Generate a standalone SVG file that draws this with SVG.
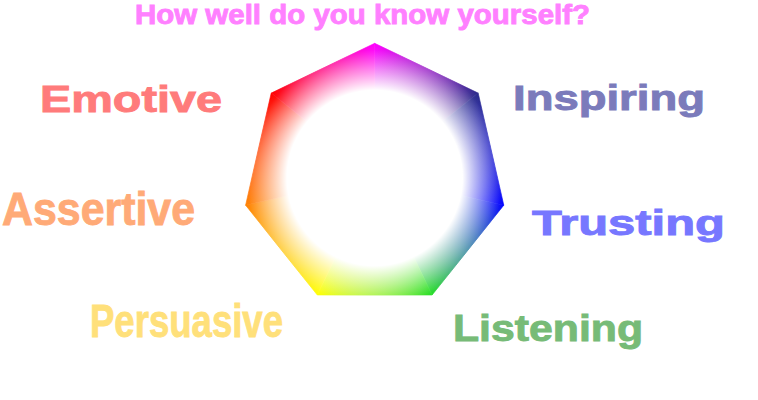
<svg xmlns="http://www.w3.org/2000/svg" width="758" height="400" viewBox="0 0 758 400">
<style>
  .lbl { font-family: "Liberation Sans", Arial, sans-serif; font-weight: bold; stroke-width: 0.9; }
</style>
<defs>
  <linearGradient id="g01" gradientUnits="userSpaceOnUse" x1="374.7" y1="43.3" x2="478.2" y2="93.1"><stop offset="0" stop-color="#FF00FF"/><stop offset="1" stop-color="#2A2A8A"/></linearGradient>
  <linearGradient id="g12" gradientUnits="userSpaceOnUse" x1="478.2" y1="93.1" x2="503.8" y2="205.2"><stop offset="0" stop-color="#2A2A8A"/><stop offset="1" stop-color="#0000FF"/></linearGradient>
  <linearGradient id="g23" gradientUnits="userSpaceOnUse" x1="503.8" y1="205.2" x2="432.1" y2="295"><stop offset="0" stop-color="#0000FF"/><stop offset="1" stop-color="#22DD22"/></linearGradient>
  <linearGradient id="g34" gradientUnits="userSpaceOnUse" x1="432.1" y1="295" x2="317.3" y2="295"><stop offset="0" stop-color="#22DD22"/><stop offset="1" stop-color="#FFFF00"/></linearGradient>
  <linearGradient id="g45" gradientUnits="userSpaceOnUse" x1="317.3" y1="295" x2="245.6" y2="205.2"><stop offset="0" stop-color="#FFFF00"/><stop offset="1" stop-color="#FF8000"/></linearGradient>
  <linearGradient id="g56" gradientUnits="userSpaceOnUse" x1="245.6" y1="205.2" x2="271.2" y2="93.1"><stop offset="0" stop-color="#FF8000"/><stop offset="1" stop-color="#FF0000"/></linearGradient>
  <linearGradient id="g60" gradientUnits="userSpaceOnUse" x1="271.2" y1="93.1" x2="374.7" y2="43.3"><stop offset="0" stop-color="#FF0000"/><stop offset="1" stop-color="#FF00FF"/></linearGradient>
  <radialGradient id="glow" gradientUnits="userSpaceOnUse" cx="374.7" cy="178" r="133">
    <stop offset="0" stop-color="#FFFFFF" stop-opacity="1"/>
    <stop offset="0.66" stop-color="#FFFFFF" stop-opacity="1"/>
    <stop offset="0.82" stop-color="#FFFFFF" stop-opacity="0.5"/>
    <stop offset="0.96" stop-color="#FFFFFF" stop-opacity="0.05"/>
    <stop offset="1" stop-color="#FFFFFF" stop-opacity="0"/>
  </radialGradient>
</defs>
<rect width="758" height="400" fill="#FFFFFF"/>
<g id="heptagon">
  <polygon points="374.7,175.7 374.7,43.3 478.2,93.1" fill="url(#g01)" stroke="url(#g01)" stroke-width="0.6"/>
  <polygon points="374.7,175.7 478.2,93.1 503.8,205.2" fill="url(#g12)" stroke="url(#g12)" stroke-width="0.6"/>
  <polygon points="374.7,175.7 503.8,205.2 432.1,295" fill="url(#g23)" stroke="url(#g23)" stroke-width="0.6"/>
  <polygon points="374.7,175.7 432.1,295 317.3,295" fill="url(#g34)" stroke="url(#g34)" stroke-width="0.6"/>
  <polygon points="374.7,175.7 317.3,295 245.6,205.2" fill="url(#g45)" stroke="url(#g45)" stroke-width="0.6"/>
  <polygon points="374.7,175.7 245.6,205.2 271.2,93.1" fill="url(#g56)" stroke="url(#g56)" stroke-width="0.6"/>
  <polygon points="374.7,175.7 271.2,93.1 374.7,43.3" fill="url(#g60)" stroke="url(#g60)" stroke-width="0.6"/>
  <polygon points="374.7,43.3 478.2,93.1 503.8,205.2 432.1,295 317.3,295 245.6,205.2 271.2,93.1" fill="url(#glow)"/>
</g>
<g id="connectors"/>
<g id="title"><text class="lbl" x="135" y="24" font-size="28" fill="#FF80FF" stroke="#FF80FF" textLength="455" lengthAdjust="spacingAndGlyphs">How well do you know yourself?</text></g>
<g id="emotive"><text class="lbl" x="40" y="112" font-size="37" fill="#FF7B7B" stroke="#FF7B7B" textLength="182" lengthAdjust="spacingAndGlyphs">Emotive</text></g>
<g id="assertive"><text class="lbl" x="2" y="225" font-size="46" fill="#FFAA77" stroke="#FFAA77" textLength="193" lengthAdjust="spacingAndGlyphs">Assertive</text></g>
<g id="inspiring"><text class="lbl" x="513" y="110" font-size="35" fill="#7B7BBB" stroke="#7B7BBB" textLength="192" lengthAdjust="spacingAndGlyphs">Inspiring</text></g>
<g id="trusting"><text class="lbl" x="532" y="235" font-size="35" fill="#7777FF" stroke="#7777FF" textLength="193" lengthAdjust="spacingAndGlyphs">Trusting</text></g>
<g id="persuasive"><text class="lbl" x="90" y="337" font-size="47" fill="#FFE07A" stroke="#FFE07A" textLength="193" lengthAdjust="spacingAndGlyphs">Persuasive</text></g>
<g id="listening"><text class="lbl" x="453" y="341" font-size="36" fill="#77BB77" stroke="#77BB77" textLength="190" lengthAdjust="spacingAndGlyphs">Listening</text></g>
</svg>
